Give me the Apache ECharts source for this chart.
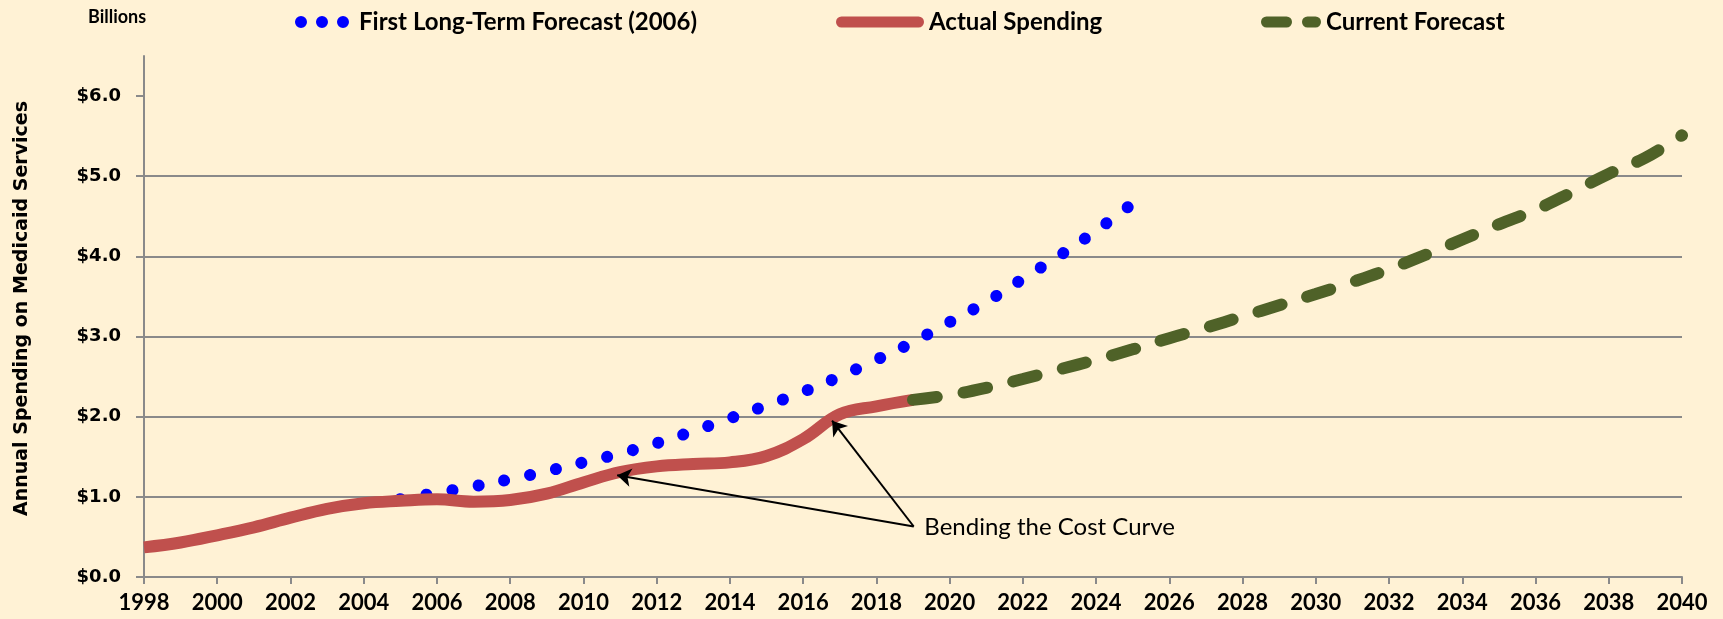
<!DOCTYPE html>
<html>
<head>
<meta charset="utf-8">
<title>Annual Spending on Medicaid Services</title>
<script src="https://cdn.jsdelivr.net/npm/echarts@6/dist/echarts.min.js"></script>
<style>
html, body { margin: 0; padding: 0; background: #FFF2D5; }
#main { width: 1723px; height: 619px; }
</style>
</head>
<body>
<div id="main"></div>
<script>
// values, billions of dollars
var actualYears = [1998, 1999, 2000, 2001, 2002, 2003, 2004, 2005, 2006, 2007, 2008,
    2009, 2010, 2011, 2012, 2013, 2014, 2015, 2016, 2017, 2018, 2019];
var actualSpending = [0.37, 0.43, 0.52, 0.62, 0.74, 0.85, 0.92, 0.95, 0.97, 0.94, 0.96,
    1.04, 1.18, 1.31, 1.38, 1.41, 1.43, 1.51, 1.72, 2.03, 2.13, 2.21];

var firstForecastYears = [2005, 2006, 2007, 2008, 2009, 2010, 2011, 2012, 2013, 2014, 2015,
    2016, 2017, 2018, 2019, 2020, 2021, 2022, 2023, 2024, 2025];
var firstForecast = [0.97, 1.05, 1.13, 1.22, 1.32, 1.43, 1.54, 1.67, 1.82, 1.98, 2.14,
    2.31, 2.50, 2.71, 2.93, 3.18, 3.43, 3.72, 4.01, 4.32, 4.66];

var currentYears = [2019, 2020, 2021, 2022, 2023, 2024, 2025, 2026, 2027, 2028, 2029,
    2030, 2031, 2032, 2033, 2034, 2035, 2036, 2037, 2038, 2039, 2040];
var currentForecast = [2.21, 2.27, 2.36, 2.47, 2.59, 2.71, 2.84, 2.98, 3.11, 3.25, 3.39,
    3.53, 3.68, 3.84, 4.02, 4.21, 4.40, 4.58, 4.80, 5.03, 5.23, 5.51];

var yTicks = [0, 1, 2, 3, 4, 5, 6];

// annotation: arrows from the note to the two bends
var noteText = 'Bending the Cost Curve';
var notePoint = [2019.2, 0.62];
var arrowFrom = [2019.02, 0.63];
var arrowTips = [[2010.92, 1.27], [2016.79, 1.95]];

function pairs(xs, ys) {
    return xs.map(function (x, i) { return [x, ys[i]]; });
}

var calibri = 'Lato, "Open Sans", sans-serif';
var verdana = '"DejaVu Sans", Verdana, sans-serif';
var gridGray = '#8a8a8a';

var myChart = echarts.init(document.getElementById('main'));
var option = {
    backgroundColor: '#FFF2D5',
    animation: false,
    title: {
        text: 'Billions',
        left: 88,
        top: 8,
        padding: 0,
        textStyle: {fontFamily: calibri, fontWeight: 'bold', fontSize: 18, color: '#000'}
    },
    legend: [
        {
            data: ['First Long-Term Forecast (2006)'],
            left: 295, top: 10, padding: 0,
            itemWidth: 54, itemHeight: 12,
            icon: 'path://M0,6A6,6 0 1,0 12,6A6,6 0 1,0 0,6ZM21,6A6,6 0 1,0 33,6A6,6 0 1,0 21,6ZM42,6A6,6 0 1,0 54,6A6,6 0 1,0 42,6Z',
            itemStyle: {color: '#0000FF', borderWidth: 0},
            textStyle: {fontFamily: calibri, fontWeight: 'bold', fontSize: 24, color: '#000', padding: [0, 0, 0, 5]}
        },
        {
            data: ['Actual Spending'],
            left: 836, top: 10, padding: 0,
            itemWidth: 88, itemHeight: 11,
            icon: 'path://M5.5,0H82.5A5.5,5.5 0 0,1 82.5,11H5.5A5.5,5.5 0 0,1 5.5,0Z',
            itemStyle: {color: '#C0504D', borderWidth: 0},
            textStyle: {fontFamily: calibri, fontWeight: 'bold', fontSize: 24, color: '#000'}
        },
        {
            data: ['Current Forecast'],
            left: 1261, top: 10, padding: 0,
            itemWidth: 60, itemHeight: 11,
            icon: 'path://M5.5,0H25.5A5.5,5.5 0 0,1 25.5,11H5.5A5.5,5.5 0 0,1 5.5,0ZM46.5,0H54.5A5.5,5.5 0 0,1 54.5,11H46.5A5.5,5.5 0 0,1 46.5,0Z',
            itemStyle: {color: '#4F6228', borderWidth: 0},
            textStyle: {fontFamily: calibri, fontWeight: 'bold', fontSize: 24, color: '#000'}
        }
    ],
    grid: {left: 144, right: 41, top: 56, bottom: 42},
    xAxis: {
        type: 'value',
        min: 1998,
        max: 2040,
        interval: 2,
        axisLine: {show: true, onZero: false, lineStyle: {color: gridGray, width: 2}},
        axisTick: {show: true, length: 7, lineStyle: {color: gridGray, width: 2}},
        axisLabel: {
            margin: 15, color: '#000',
            fontFamily: calibri, fontWeight: 'bold', fontSize: 22,
            formatter: function (v) { return String(v); }
        },
        splitLine: {show: false}
    },
    yAxis: {
        type: 'value',
        min: 0,
        max: 6.5,
        interval: 1,
        name: 'Annual Spending on Medicaid Services',
        nameLocation: 'middle',
        nameRotate: 90,
        nameGap: 112,
        nameTextStyle: {fontFamily: verdana, fontWeight: 'bold', fontSize: 19, color: '#000', padding: [0, 0, 0, 16]},
        axisLine: {show: true, lineStyle: {color: gridGray, width: 2}},
        axisTick: {show: true, length: 8, customValues: yTicks, lineStyle: {color: gridGray, width: 2}},
        axisLabel: {
            margin: 23, color: '#000', customValues: yTicks,
            fontFamily: verdana, fontWeight: 'bold', fontSize: 18,
            formatter: function (v) { return '$' + v.toFixed(1); }
        },
        splitLine: {show: true, showMaxLine: false, lineStyle: {color: gridGray, width: 2}}
    },
    series: [
        {
            name: 'First Long-Term Forecast (2006)',
            type: 'line',
            data: pairs(firstForecastYears, firstForecast),
            smooth: 0.4,
            symbol: 'none',
            z: 2,
            itemStyle: {color: '#0000FF'},
            lineStyle: {color: '#0000FF', width: 12, type: [0.1, 26.3], cap: 'round'}
        },
        {
            name: 'Actual Spending',
            type: 'line',
            data: pairs(actualYears, actualSpending),
            smooth: 0.4,
            symbol: 'none',
            z: 3,
            itemStyle: {color: '#C0504D'},
            lineStyle: {color: '#C0504D', width: 12, cap: 'butt'},
            markLine: {
                silent: true,
                symbol: ['none', 'arrow'],
                symbolSize: 14,
                lineStyle: {color: '#000', width: 2, type: 'solid'},
                label: {show: false},
                data: arrowTips.map(function (t) {
                    return [{coord: arrowFrom}, {coord: t}];
                })
            },
            markPoint: {
                silent: true,
                symbol: 'circle',
                symbolSize: 0,
                label: {
                    show: true, position: 'right', distance: 4,
                    formatter: noteText, color: '#000',
                    fontFamily: calibri, fontSize: 24
                },
                data: [{coord: notePoint}]
            }
        },
        {
            name: 'Current Forecast',
            type: 'line',
            data: pairs(currentYears, currentForecast),
            smooth: 0.4,
            symbol: 'none',
            z: 4,
            itemStyle: {color: '#4F6228'},
            lineStyle: {color: '#4F6228', width: 12, type: [24, 27], cap: 'round'}
        }
    ]
};
myChart.setOption(option);
window.onresize = myChart.resize;
</script>
</body>
</html>
